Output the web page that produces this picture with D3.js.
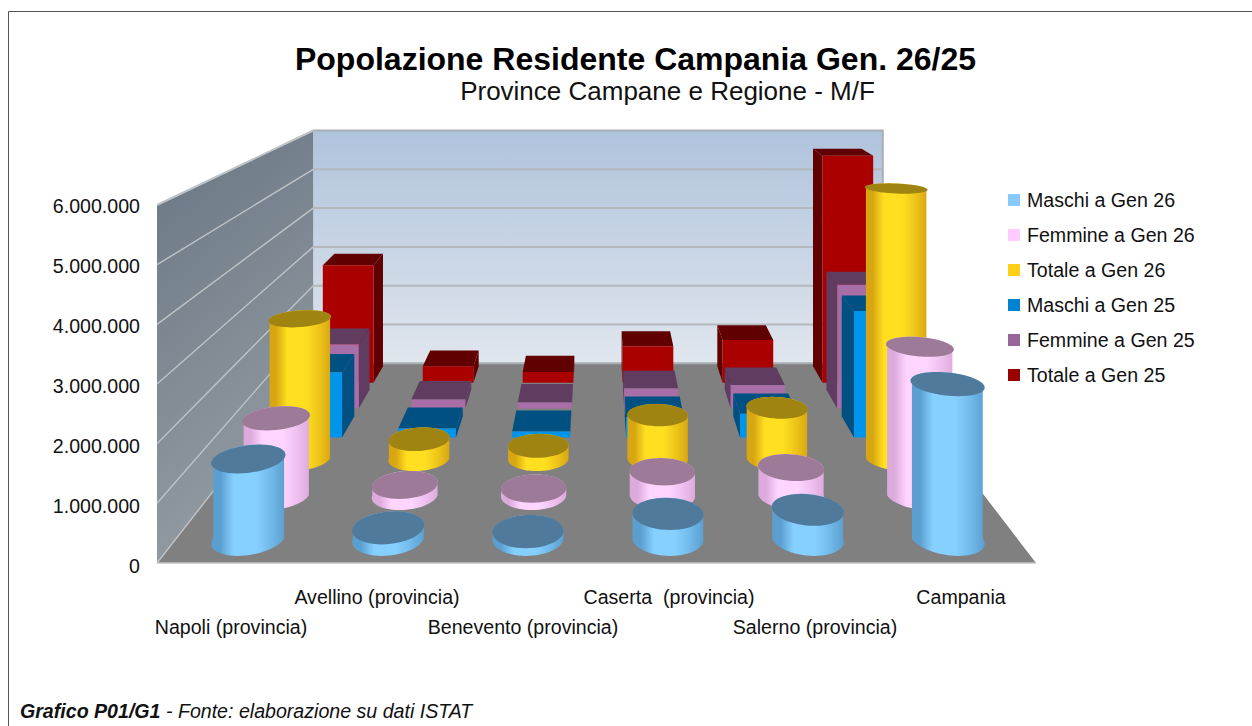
<!DOCTYPE html>
<html><head><meta charset="utf-8">
<script src="https://cdn.jsdelivr.net/npm/d3@7"></script>
<style>html,body{margin:0;padding:0;background:#fff}svg{display:block}text{font-family:"Liberation Sans",Arial,sans-serif;fill:#111}.n{font-family:"Liberation Sans Narrow","Liberation Sans",sans-serif}</style>
</head><body><svg id="c" width="1252" height="726"></svg>
<script>
const categories=["Napoli (provincia)","Avellino (provincia)","Benevento (provincia)","Caserta  (provincia)","Salerno (provincia)","Campania"];
const seriesNames=["Maschi a Gen 26","Femmine a Gen 26","Totale a Gen 26","Maschi a Gen 25","Femmine a Gen 25","Totale a Gen 25"];
const maschi26=[1400000,195000,130000,440000,510000,2710000];
const femmine26=[1470000,205000,135000,455000,535000,2830000];
const totale26=[2870000,400000,265000,895000,1045000,5540000];
const maschi25=[1405000,197000,131000,442000,513000,2720000];
const femmine25=[1475000,207000,136000,457000,537000,2840000];
const totale25=[2880000,404000,267000,899000,1050000,5560000];
const seriesValues=[maschi26,femmine26,totale26,maschi25,femmine25,totale25];
const yTicks=[0,1000000,2000000,3000000,4000000,5000000,6000000];
const shapes=["cyl","cyl","cyl","box","box","box"];
const legendColors=["#85c9ff","#ffccff","#ffcf1a","#0082d2","#996699","#990000"];
const faceColors=["#85d0ff","#ffd4ff","#ffdf20","#0094ea","#a86ea8","#aa0000"];
const edgeColors=["#5a9fd0","#dcaadc","#d8a612","#0094ea","#a86ea8","#aa0000"];
const topColors=["#4f7a9c","#9c7a98","#a08412","#005082","#603c60","#600000"];

const svg=d3.select("#c");
const VX=598,VY=-8,FLOOR=563,DEPTH=0.538;
const xS=d3.scaleBand().domain(categories).range([-438,438]);
const zS=d3.scaleBand().domain(seriesNames).range([0,1]);
const hS=d3.scaleLinear().domain([0,6000000]).range([0,358]);
function P(x,v,z){const s=1/(1+DEPTH*z);return [VX+x*s,VY+(FLOOR-hS(v)-VY)*s];}
const RX=37,RZ=0.06;

const defs=svg.append("defs");
function lin(id,x2,y2,stops){const g=defs.append("linearGradient").attr("id",id).attr("x1",0).attr("y1",0).attr("x2",x2).attr("y2",y2);
 stops.forEach(s=>g.append("stop").attr("offset",s[0]).attr("stop-color",s[1]));}
lin("back",0,1,[[0,"#afc3dc"],[1,"#e0e6ee"]]);
lin("left",0.3,1,[[0,"#687684"],[1,"#949ca2"]]);
seriesNames.forEach((n,i)=>{lin("cy"+i,1,0,[[0,edgeColors[i]],[0.12,edgeColors[i]],[0.3,faceColors[i]],[0.6,faceColors[i]],[0.82,d3.interpolateRgb(faceColors[i],edgeColors[i])(0.5)],[1,edgeColors[i]]]);});

// frame
svg.append("path").attr("d","M8.5,726V11.5H1252").attr("fill","none").attr("stroke","#555").attr("stroke-width",1);

const poly=d3.line().curve(d3.curveLinearClosed);
const maxV=6000000,L=xS.range()[0],R=xS.range()[1];
// floor
svg.append("path").attr("d",poly([P(L-3,0,0),P(R,0,0),P(R,0,1),P(L,0,1)])).attr("fill","#808080");
svg.append("path").attr("d",d3.line()([P(L-3,0,0),P(R,0,0)])).attr("stroke","#c4c4c4").attr("stroke-width",1.5);
// back wall
svg.append("path").attr("d",poly([P(L,maxV,1),P(R,maxV,1),P(R,0,1),P(L,0,1)])).attr("fill","url(#back)");
svg.append("path").attr("d",d3.line()([P(L,0,1),P(R,0,1),P(R,maxV,1),P(L,maxV,1)])).attr("fill","none").attr("stroke","#a8aeb4").attr("stroke-width",2);
// left wall
svg.append("path").attr("d",poly([P(L-3,maxV,0),P(L,maxV,1),P(L,0,1),P(L-3,0,0)])).attr("fill","url(#left)");
// gridlines
yTicks.forEach(t=>{
  if(t>0&&t<maxV) svg.append("path").attr("d",d3.line()([P(L,t,1),P(R,t,1)])).attr("stroke","#b4b8bc").attr("stroke-width",2);
  svg.append("path").attr("d",d3.line()([P(L-3,t,0),P(L,t,1)])).attr("stroke","#bfc3c6").attr("stroke-width",t===maxV?2:1.4);
});
// y axis
const yAxis=d3.scaleLinear().domain([0,6000000]).range([566,206]);
const ax=svg.append("g").attr("transform","translate(140,0)").call(d3.axisLeft(yAxis).tickValues(yTicks).tickSize(0).tickPadding(0).tickFormat(d=>d3.format(",")(d).replace(/,/g,".")));
ax.select(".domain").remove();
ax.selectAll("text").style("font-family",'"Liberation Sans"').style("font-size","19.6px").style("fill","#111");

// bars back to front
function ringPts(x,v,z,from,to,n){return d3.range(n+1).map(i=>{const a=from+(to-from)*i/n;return P(x+RX*Math.cos(a),v,z+RZ*Math.sin(a));});}
for(let si=5;si>=0;si--){
  const z=zS(seriesNames[si])+zS.bandwidth()/2;
  categories.forEach((c,ci)=>{
    const x=xS(c)+xS.bandwidth()/2,v=seriesValues[si][ci];
    const g=svg.append("g");
    if(shapes[si]==="cyl"){
      const front=ringPts(x,0,z,Math.PI,2*Math.PI,30);
      const back=ringPts(x,v,z,0,Math.PI,30);
      g.append("path").attr("d",poly(front.concat(back))).attr("fill",`url(#cy${si})`);
      g.append("path").attr("d",poly(ringPts(x,v,z,0,2*Math.PI,48))).attr("fill",topColors[si]);
    }else{
      const x0=x-RX,x1=x+RX,zf=z-RZ,zb=z+RZ;
      const sx=x<0?x1:x0;
      g.append("path").attr("d",poly([P(sx,0,zf),P(sx,v,zf),P(sx,v,zb),P(sx,0,zb)])).attr("fill",topColors[si]);
      g.append("path").attr("d",poly([P(x0,v,zf),P(x1,v,zf),P(x1,v,zb),P(x0,v,zb)])).attr("fill",topColors[si]);
      g.append("path").attr("d",poly([P(x0,0,zf),P(x1,0,zf),P(x1,v,zf),P(x0,v,zf)])).attr("fill",faceColors[si]);
    }
  });
}
// category labels
categories.forEach((c,i)=>{
  svg.append("text").attr("class","n").attr("x",VX+xS(c)+xS.bandwidth()/2-2).attr("y",i%2?604:634)
   .attr("text-anchor","middle").style("white-space","pre").style("font-size","19.6px").text(c);
});
// legend
const lg=d3.scalePoint().domain(seriesNames).range([200,375]);
seriesNames.forEach((n,i)=>{
  svg.append("rect").attr("x",1008).attr("y",lg(n)-6).attr("width",12).attr("height",12).attr("fill",legendColors[i]);
  svg.append("text").attr("x",1027).attr("y",lg(n)+7).style("font-size","19.6px").text(n);
});
// titles
svg.append("text").attr("class","n").attr("x",635.5).attr("y",70).attr("text-anchor","middle").style("font-size","32px").style("font-weight","bold").style("fill","#000").text("Popolazione Residente Campania Gen. 26/25");
svg.append("text").attr("class","n").attr("x",667.5).attr("y",100).attr("text-anchor","middle").style("font-size","26px").text("Province Campane e Regione - M/F");
const ft=svg.append("text").attr("x",20).attr("y",718).style("font-size","19.6px").style("font-style","italic");
ft.append("tspan").style("font-weight","bold").text("Grafico P01/G1");
ft.append("tspan").text(" - Fonte: elaborazione su dati ISTAT");
</script></body></html>
